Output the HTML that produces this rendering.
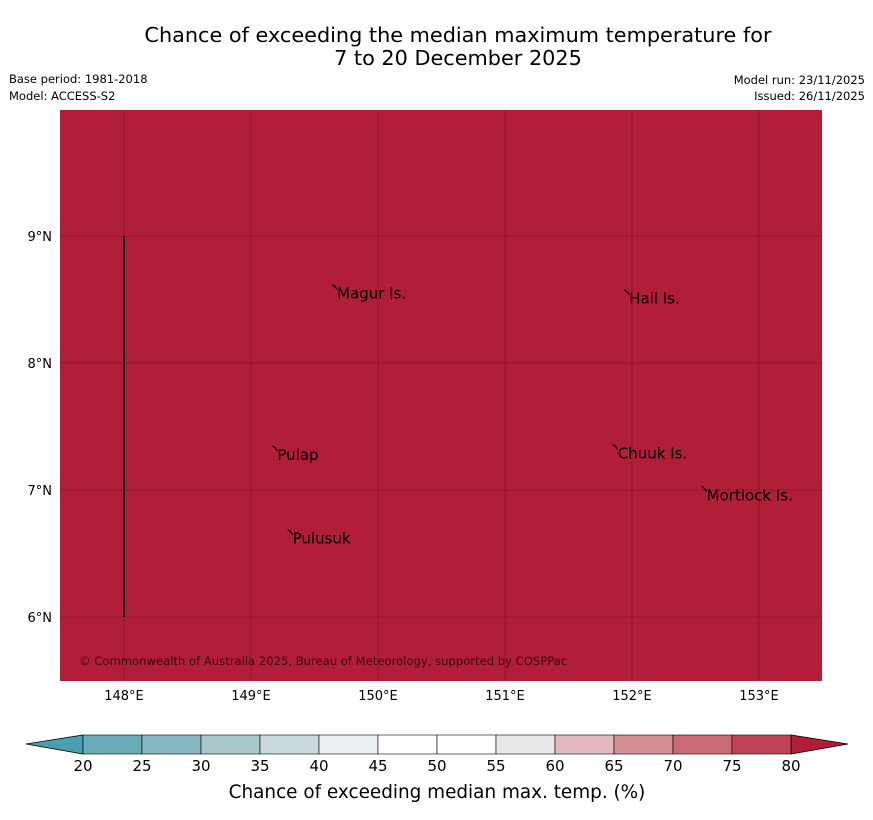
<!DOCTYPE html>
<html><head><meta charset="utf-8"><style>
body{margin:0;background:#fff;font-family:"DejaVu Sans","Liberation Sans",sans-serif;}
</style></head><body>
<svg width="873" height="816" xmlns="http://www.w3.org/2000/svg" font-family="DejaVu Sans, Liberation Sans, sans-serif">
<text x="458" y="42" text-anchor="middle" font-size="20.8">Chance of exceeding the median maximum temperature for</text>
<text x="458" y="65" text-anchor="middle" font-size="20.8">7 to 20 December 2025</text>
<text x="9" y="83" font-size="11.5">Base period: 1981-2018</text>
<text x="9" y="100" font-size="11.5">Model: ACCESS-S2</text>
<text x="865" y="84" font-size="11.5" text-anchor="end">Model run: 23/11/2025</text>
<text x="865" y="100" font-size="11.5" text-anchor="end">Issued: 26/11/2025</text>
<g id="map"></g>
<g id="cbar"></g>
<text x="437" y="798" text-anchor="middle" font-size="18.4">Chance of exceeding median max. temp. (%)</text>
</svg>
<script>
const lonTicks=[148,149,150,151,152,153];
const latTicks=[6,7,8,9];
const places=["Magur Is.","Hall Is.","Pulap","Chuuk Is.","Mortlock Is.","Pulusuk"];
const placeLon=[149.67,151.97,149.2,151.88,152.58,149.32];
const placeLat=[8.57,8.53,7.3,7.31,6.98,6.64];
const levels=[20,25,30,35,40,45,50,55,60,65,70,75,80];
const levelColors=["#6aabb8","#89b8c3","#a9c8cc","#c9d9dd","#eaf0f2","#ffffff","#ffffff","#eae8e9","#e1b9bf","#d58f96","#cb6a74","#be4455"];
const NS="http://www.w3.org/2000/svg";
function mk(t,a,p){const e=document.createElementNS(NS,t);for(const k in a)e.setAttribute(k,a[k]);p.appendChild(e);return e;}
const X=lon=>124+(lon-148)*127, Y=lat=>236-(lat-9)*127;
const m=document.getElementById('map');
let r=mk('rect',{x:60,y:110,width:762,height:571,fill:'#b01e38'},m);


lonTicks.forEach(v=>{
 let l=mk('line',{x1:X(v),x2:X(v),y1:110,y2:681,stroke:'#7a1226','stroke-width':0.6},m);
 
 
 let t=mk('text',{x:X(v),y:700,'text-anchor':'middle','font-size':13},m);t.textContent=v+'°E';
 
 
});
latTicks.forEach(v=>{
 let l=mk('line',{x1:60,x2:822,y1:Y(v),y2:Y(v),stroke:'#7a1226','stroke-width':0.6},m);
 
 
 let t=mk('text',{x:52,y:Y(v)+5,'text-anchor':'end','font-size':13},m);t.textContent=v+'°N';
 
 
});
let vl=mk('line',{x1:X(148),x2:X(148),y1:Y(9),y2:Y(6),stroke:'#000','stroke-width':2},m);


places.forEach((p,i)=>{
 let d=mk('path',{d:`M${X(placeLon[i])-4},${Y(placeLat[i])-6} l3,2 l2,3`,stroke:'#000',fill:'none','stroke-width':1.2},m);
 
 
 let t=mk('text',{x:X(placeLon[i])+1,y:Y(placeLat[i])+8,'font-size':15},m);t.textContent=p;
 
 
});
let c=mk('text',{x:79,y:665,'font-size':11.6,fill:'#3a0a14'},m);c.textContent='© Commonwealth of Australia 2025, Bureau of Meteorology, supported by COSPPac';


const cb=document.getElementById('cbar');
const CX=v=>83+(v-20)*(708/60);
let lt=mk('polygon',{points:`${CX(20)},735 ${CX(20)},754 26,744`,fill:'#45a0b0',stroke:'#000','stroke-width':0.8},cb);


let rt=mk('polygon',{points:`${CX(80)},735 ${CX(80)},754 848,744`,fill:'#b01e38',stroke:'#000','stroke-width':0.8},cb);


levelColors.forEach((col,i)=>{
 let s=mk('rect',{x:CX(levels[i]),y:735,width:CX(levels[i+1])-CX(levels[i]),height:19,fill:col,stroke:'#000','stroke-width':0.6},cb);
 
 
});
levels.forEach(v=>{
 let t=mk('text',{x:CX(v),y:771,'text-anchor':'middle','font-size':15},cb);t.textContent=v;
 
 
});
</script>
</body></html>
